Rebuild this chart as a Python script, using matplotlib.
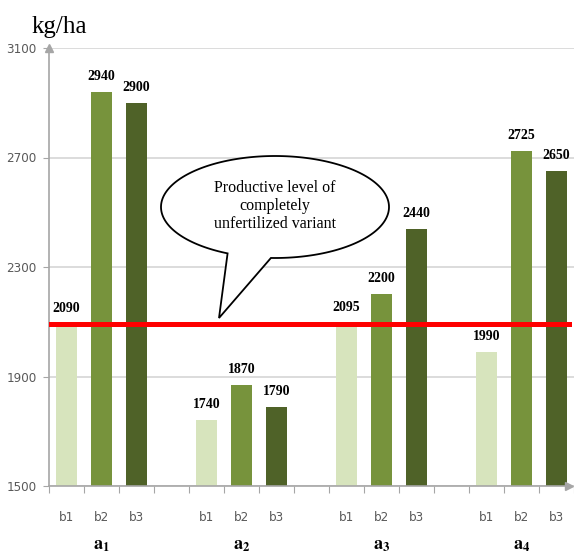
import numpy as np
import matplotlib.pyplot as plt
from matplotlib.patches import Polygon
from matplotlib.transforms import blended_transform_factory

plt.rcParams['mathtext.fontset'] = 'stix'

# data
groups = ['1', '2', '3', '4']
subs = ['b1', 'b2', 'b3']
b1 = [2090, 1740, 2095, 1990]
b2 = [2940, 1870, 2200, 2725]
b3 = [2900, 1790, 2440, 2650]
control = 2090
yticks = [1500, 1900, 2300, 2700, 3100]
colors = ['#d7e4bd', '#77933c', '#4f6228']

W, H = 574, 553
fig = plt.figure(figsize=(W / 100, H / 100), dpi=100)
ax = fig.add_axes([49 / W, 67 / H, 525 / W, 438 / H])

serif = ['Liberation Serif', 'DejaVu Serif']
grey = '#a6a6a6'

# bars
for j, vals in enumerate([b1, b2, b3]):
    x = np.arange(len(vals)) * 4 + j
    ax.bar(x, vals, 0.6, color=colors[j], zorder=2)
    for xi, v in zip(x, vals):
        ax.annotate(str(v), (xi, v), xytext=(0, 6.5), textcoords='offset points',
                    ha='center', va='bottom', fontweight='bold',
                    family=serif, fontsize=10, zorder=3)

ax.set_ylim(1500, 3100)
ax.set_xlim(-0.5, 14.5)
ax.set_yticks(yticks)
ax.yaxis.grid(True, color='#d9d9d9', lw=1.3)
ax.set_axisbelow(True)

# red level line
ax.axhline(control, xmin=0, xmax=0.99, color='red', lw=3.6, zorder=5)

# spines
for s in ['top', 'right']:
    ax.spines[s].set_visible(False)
for s in ['left', 'bottom']:
    ax.spines[s].set_color(grey)
    ax.spines[s].set_linewidth(1.2)
ax.spines['bottom'].set_bounds(-0.5, 14.35)
ax.plot([-0.5], [3100], marker='^', color=grey, ms=6, clip_on=False, zorder=6)
ax.plot([14.35], [1500], marker='>', color=grey, ms=6, clip_on=False, zorder=6)

# ticks
ax.tick_params(axis='y', length=4, color=grey, labelcolor='#595959', labelsize=9.5, pad=5)
for lab in ax.get_yticklabels():
    lab.set_fontstretch('condensed')
ax.set_xticks(np.arange(-0.5, 14.6, 1))
ax.set_xticklabels([])
ax.tick_params(axis='x', which='major', length=5, color=grey)
pos = [4 * g + j for g in range(len(groups)) for j in range(len(subs))]
ax.set_xticks(pos, minor=True)
ax.set_xticklabels(subs * len(groups), minor=True)
ax.tick_params(axis='x', which='minor', length=0, pad=18, labelcolor='#595959', labelsize=9.5)
for lab in ax.get_xticklabels(minor=True):
    lab.set_fontstretch('condensed')

# group labels
tr = blended_transform_factory(ax.transData, ax.transAxes)
for g, name in enumerate(groups):
    ax.text(4 * g + 1, -0.135, r'$\mathbf{a}_\mathbf{' + name + '}$', transform=tr,
            ha='center', va='center', fontsize=13)

# unit label
fig.text(32 / W, 1 - 27 / H, 'kg/ha', family=serif, fontsize=18, va='center', ha='left')

# speech bubble (figure pixels, y from top)
cx, cy, a, b = 275, 207, 114, 51
tip = (219, 318)
t1 = np.arctan2(45 / b, -46 / a)
t2 = np.arctan2(50 / b, -4 / a)
t = np.linspace(t2, t1 - 2 * np.pi, 200)
px = np.append(cx + a * np.cos(t), tip[0])
py = np.append(cy + b * np.sin(t), tip[1])
verts = np.column_stack([px / W, 1 - py / H])
fig.add_artist(Polygon(verts, closed=True, facecolor='white', edgecolor='black',
                       lw=1.3, transform=fig.transFigure, zorder=4))
fig.text(cx / W, 1 - 206 / H, 'Productive level of\ncompletely\nunfertilized variant',
         family=serif, fontsize=11.5, ha='center', va='center', linespacing=1.15, zorder=5)

fig.savefig('out.png', dpi=100)
